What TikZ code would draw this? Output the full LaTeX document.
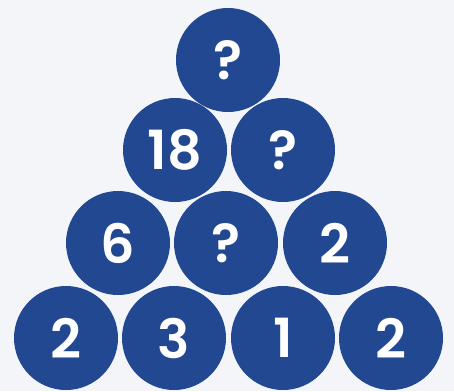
\documentclass[tikz,border=0pt]{standalone}
\usepackage{fontspec}
\usetikzlibrary{positioning}
\newfontfamily\ballfont{Poppins SemiBold}
\definecolor{ballblue}{RGB}{33,72,145}
\definecolor{bgpaper}{RGB}{243,245,248}
\tikzset{
  ball/.style={circle, fill=ballblue, draw=none, minimum size=104pt, inner sep=0pt,
               text=white, font=\ballfont\fontsize{54}{54}\selectfont},
}
\begin{document}
\begin{tikzpicture}[x=1pt,y=-1pt]
    \fill[bgpaper] (0,0) rectangle (454,391);
    \useasboundingbox (0,0) rectangle (454,391);
    % top
    \node[ball] (top) at (228,60) {?};
    % second row
    \node[ball] (r2a) at (175,150) {18};
    \node[ball] (r2b) at (283,150) {?};
    % third row
    \node[ball] (r3a) at (118,243) {6};
    \node[ball] (r3b) at (226,243) {?};
    \node[ball] (r3c) at (335,243) {2};
    % bottom row
    \node[ball] (r4a) at (66,338) {2};
    \node[ball] (r4b) at (174,338) {3};
    \node[ball] (r4c) at (283,338) {1};
    \node[ball] (r4d) at (391,338) {2};
  \end{tikzpicture}
\end{document}
